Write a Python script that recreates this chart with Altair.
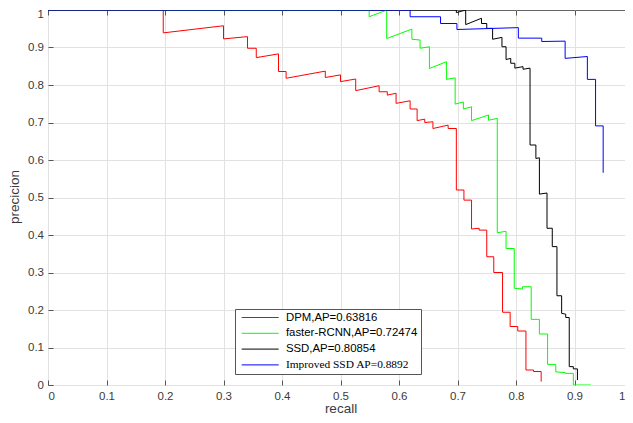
import altair as alt
import pandas as pd

models = ["DPM,AP=0.63816", "faster-RCNN,AP=0.72474", "SSD,AP=0.80854", "Improved SSD AP=0.8892"]
colors = ["#ff0000", "#00ff00", "#000000", "#0000ff"]
tick_values = [0, 0.1, 0.2, 0.3, 0.4, 0.5, 0.6, 0.7, 0.8, 0.9, 1.0]
x_label_values = [0, 0.1, 0.2, 0.3, 0.4, 0.5, 0.6, 0.7, 0.8, 0.9]
x_end_label = [1.0]
y_label_values = [0, 0.1, 0.2, 0.3, 0.4, 0.5, 0.6, 0.7, 0.8, 0.9]
y_top_label = [1.0]

dpm_recall = [0.0, 0.197, 0.197, 0.300, 0.300, 0.341, 0.341, 0.356, 0.356, 0.394, 0.394, 0.407, 0.407,
              0.474, 0.474, 0.500, 0.500, 0.526, 0.526, 0.566, 0.566, 0.580, 0.580, 0.595, 0.595,
              0.619, 0.619, 0.631, 0.631, 0.644, 0.644, 0.658, 0.658, 0.684, 0.684, 0.698, 0.698,
              0.711, 0.711, 0.724, 0.724, 0.737, 0.737, 0.750, 0.750, 0.762, 0.762, 0.777, 0.777,
              0.790, 0.790, 0.803, 0.803, 0.817, 0.817, 0.830, 0.830, 0.843, 0.843]
dpm_precision = [1.0, 1.0, 0.939, 0.958, 0.923, 0.929, 0.898, 0.898, 0.873, 0.883, 0.836, 0.836, 0.818,
                 0.837, 0.820, 0.827, 0.809, 0.816, 0.785, 0.798, 0.782, 0.782, 0.773, 0.778, 0.751,
                 0.758, 0.736, 0.736, 0.705, 0.709, 0.700, 0.702, 0.684, 0.693, 0.684, 0.684, 0.520,
                 0.520, 0.493, 0.493, 0.416, 0.418, 0.413, 0.413, 0.342, 0.342, 0.300, 0.300, 0.194,
                 0.194, 0.156, 0.156, 0.144, 0.144, 0.040, 0.040, 0.036, 0.036, 0.009]

frcnn_recall = [0.0, 0.549, 0.549, 0.579, 0.579, 0.622, 0.622, 0.636, 0.636, 0.652, 0.652, 0.681, 0.681,
                0.696, 0.696, 0.710, 0.710, 0.724, 0.724, 0.753, 0.753, 0.768, 0.768, 0.783, 0.783,
                0.797, 0.797, 0.811, 0.811, 0.826, 0.826, 0.840, 0.840, 0.854, 0.854, 0.868, 0.868,
                0.884, 0.884, 0.898, 0.898, 0.928]
frcnn_precision = [1.0, 1.0, 0.982, 1.0, 0.924, 0.949, 0.922, 0.920, 0.898, 0.902, 0.844, 0.862, 0.815,
                   0.819, 0.749, 0.755, 0.736, 0.742, 0.705, 0.720, 0.706, 0.711, 0.406, 0.410, 0.364,
                   0.364, 0.258, 0.256, 0.262, 0.262, 0.175, 0.175, 0.136, 0.136, 0.055, 0.055, 0.035,
                   0.033, 0.031, 0.031, 0.0, 0.0]

ssd_recall = [0.0, 0.698, 0.698, 0.714, 0.714, 0.741, 0.741, 0.750, 0.750, 0.760, 0.760, 0.776, 0.776,
              0.783, 0.783, 0.791, 0.791, 0.798, 0.798, 0.812, 0.812, 0.824, 0.824, 0.834, 0.834,
              0.840, 0.840, 0.853, 0.853, 0.862, 0.862, 0.870, 0.870, 0.878, 0.878, 0.885, 0.885,
              0.891, 0.891, 0.898, 0.898, 0.905, 0.905]
ssd_precision = [1.0, 1.0, 0.993, 1.0, 0.961, 0.978, 0.964, 0.964, 0.951, 0.951, 0.922, 0.927, 0.902,
                 0.902, 0.868, 0.871, 0.858, 0.858, 0.845, 0.849, 0.842, 0.845, 0.640, 0.640, 0.604,
                 0.606, 0.509, 0.512, 0.418, 0.418, 0.369, 0.369, 0.238, 0.238, 0.191, 0.189, 0.180,
                 0.180, 0.049, 0.049, 0.043, 0.043, 0.013]

issd_recall = [0.0, 0.619, 0.619, 0.671, 0.671, 0.699, 0.699, 0.804, 0.804, 0.844, 0.844, 0.884, 0.884,
               0.922, 0.922, 0.936, 0.936, 0.949, 0.949]
issd_precision = [1.0, 1.0, 0.982, 0.982, 0.964, 0.964, 0.948, 0.953, 0.925, 0.925, 0.916, 0.917, 0.871,
                  0.876, 0.815, 0.815, 0.691, 0.691, 0.566]

series = [
    (models[0], dpm_recall, dpm_precision),
    (models[1], frcnn_recall, frcnn_precision),
    (models[2], ssd_recall, ssd_precision),
    (models[3], issd_recall, issd_precision),
]
rows = []
for name, rs, ps in series:
    for i, (r, p) in enumerate(zip(rs, ps)):
        rows.append({"model": name, "recall": r, "precision": p, "idx": i})
df = pd.DataFrame(rows)

GRID = "#e2e2e2"
TXT = "#3a3a3a"
TICK = "#555555"

xscale = alt.Scale(domain=[0, 1], nice=False, zero=False)
yscale = alt.Scale(domain=[0, 1], nice=False, zero=False)

base = alt.Chart(df)

lines = base.mark_line(strokeWidth=1, clip=True).encode(
    x=alt.X("recall:Q", scale=xscale, axis=alt.Axis(
        orient="bottom", values=x_label_values, format=".1~f", ticks=False, domain=False,
        grid=True, gridColor=GRID, gridWidth=1, labelPadding=5, labelFontSize=11.5,
        labelColor=TXT, labelFont="Liberation Sans", title="recall", titleFont="Liberation Sans",
        titleFontSize=13.5, titleFontWeight="normal", titleColor=TXT, titleX=292.5, titleY=27,
        titleAlign="center", titleBaseline="alphabetic")),
    y=alt.Y("precision:Q", scale=yscale, axis=alt.Axis(
        orient="left", values=y_label_values, format=".1~f", ticks=False, domain=False,
        grid=True, gridColor=GRID, gridWidth=1, labelPadding=4.5, labelFontSize=11.5,
        labelColor=TXT, labelFont="Liberation Sans", title="precicion", titleFont="Liberation Sans",
        titleFontSize=13.5, titleFontWeight="normal", titleColor=TXT, titleAngle=270,
        titleX=-29.5, titleY=186.5, titleAlign="center", titleBaseline="alphabetic")),
    color=alt.Color("model:N", scale=alt.Scale(domain=models, range=colors), legend=alt.Legend(
        title=None, orient="none", legendX=187, legendY=299, symbolType="stroke",
        symbolSize=1369, symbolStrokeWidth=1, symbolOffset=3.2, labelOffset=6.7, clipHeight=11,
        rowPadding=3.8, padding=3, labelFontSize=11.4, labelColor="#000000",
        labelFont={"expr": "datum.label == 'Improved SSD AP=0.8892' ? 'Liberation Serif' : 'Liberation Sans'"},
        labelLimit=300, fillColor="#ffffff", strokeColor="#555555", cornerRadius=0)),
    order="idx:Q",
)


def tick_axis(orient):
    return alt.Axis(orient=orient, values=tick_values, labels=False, grid=False, domain=False,
                    ticks=True, tickSize=5, tickColor=TICK, tickWidth=1, offset=-5, title=None)


ticks_a = base.mark_point(opacity=0).encode(
    x=alt.X("recall:Q", axis=tick_axis("bottom")),
    y=alt.Y("precision:Q", axis=tick_axis("left")),
)
ticks_b = base.mark_point(opacity=0).encode(
    x=alt.X("recall:Q", axis=tick_axis("top")),
    y=alt.Y("precision:Q", axis=tick_axis("right")),
)
edge_labels = base.mark_point(opacity=0).encode(
    x=alt.X("recall:Q", axis=alt.Axis(
        orient="bottom", values=x_end_label, format=".1~f", ticks=False, domain=False, grid=False,
        labelPadding=5, labelFontSize=11.5, labelColor=TXT, labelFont="Liberation Sans",
        labelAlign="right", labelOffset=-8, title=None)),
    y=alt.Y("precision:Q", axis=alt.Axis(
        orient="left", values=y_top_label, format=".1~f", ticks=False, domain=False, grid=False,
        labelPadding=4.5, labelFontSize=11.5, labelColor=TXT, labelFont="Liberation Sans",
        labelBaseline="top", labelOffset=-2, title=None)),
)

chart = alt.layer(lines, ticks_a, ticks_b, edge_labels).resolve_axis(
    x="independent", y="independent"
).properties(
    width=585, height=375,
    autosize=alt.AutoSizeParams(type="none"),
    padding={"left": 40, "top": 2, "right": -8, "bottom": 30},
).configure_view(
    stroke="#666666", strokeWidth=1
)

chart.save("out.html", embed_options={"renderer": "svg", "actions": False})
